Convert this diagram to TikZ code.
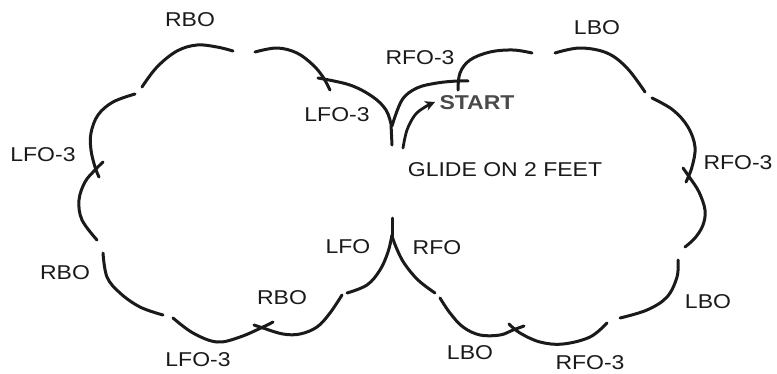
\documentclass[tikz,border=0pt]{standalone}
\usepackage{fontspec}
\setmainfont{Liberation Sans}[FakeStretch=1.15]
\usetikzlibrary{arrows.meta}
\definecolor{ink}{HTML}{1A1A1A}
\definecolor{startgray}{HTML}{4A4A4A}
\tikzset{
  stroke/.style={draw=ink, line width=3pt, line cap=round, line join=round},
  lbl/.style={font=\fontsize{20}{22}\selectfont, text=ink, inner sep=0pt},
  startlbl/.style={font=\fontsize{20}{22}\selectfont\bfseries, text=startgray, inner sep=0pt},
}
\begin{document}
\begin{tikzpicture}[x=1pt,y=-1pt]
\useasboundingbox (0,0) rectangle (777,373);
\fill[white] (0,0) rectangle (777,373);

% ---- left lobe ----
\draw[stroke] plot[smooth,tension=0.6] coordinates {(142,87) (157,67) (177,51) (197,45) (217,47) (233,51)};
\draw[stroke] plot[smooth,tension=0.6] coordinates {(255,52) (277,48) (297,53) (313,65) (323,77) (330,90)};
\draw[stroke] plot[smooth,tension=0.6] coordinates {(318,78) (350,85) (373,97) (386,110) (391,124)} -- (392,145);
\draw[stroke] plot[smooth,tension=0.6] coordinates {(135,94) (113,102) (98,115) (91,133) (91,150) (95,167) (99,177)};
\draw[stroke] plot[smooth,tension=0.6] coordinates {(103,162) (95,170) (85,182) (79,200) (82,220) (97,240)};
\draw[stroke] plot[smooth,tension=0.6] coordinates {(103,253) (107,277) (120,293) (140,307) (163,315)};
\draw[stroke] plot[smooth,tension=0.6] coordinates {(173,318) (193,333) (217,342) (240,337) (263,327) (273,322)};
\draw[stroke] plot[smooth,tension=0.6] coordinates {(254,325) (263,328) (283,334) (300,334) (317,327) (330,313) (342,295)};
\draw[stroke] plot[smooth,tension=0.6] coordinates {(347,293) (367,285) (380,270) (388,252) (392,235)};

% ---- centre cusps ----
\draw[stroke] (392,218) -- (392,236);
\draw[stroke] plot[smooth,tension=0.6] coordinates {(392,236) (396,247) (404,263) (418,280) (435,293)};
\draw[stroke] plot[smooth,tension=0.6] coordinates {(392,126) (402,100) (417,88) (437,83) (457,81) (468,81)};

% ---- right lobe ----
\draw[stroke] plot[smooth,tension=0.6] coordinates {(458,90) (460,73) (470,60) (490,52) (513,50) (532,53)};
\draw[stroke] plot[smooth,tension=0.6] coordinates {(555,53) (580,48) (607,53) (627,68) (645,92)};
\draw[stroke] plot[smooth,tension=0.6] coordinates {(652,98) (673,110) (688,127) (695,147) (692,167) (686,182)};
\draw[stroke] plot[smooth,tension=0.6] coordinates {(683,168) (690,178) (699,192) (705,210) (703,225) (695,238) (685,247)};
\draw[stroke] plot[smooth,tension=0.6] coordinates {(678,260) (677,277) (667,297) (647,310) (620,318)};
\draw[stroke] plot[smooth,tension=0.6] coordinates {(607,323) (590,337) (563,344) (540,342) (520,333) (509,324)};
\draw[stroke] plot[smooth,tension=0.6] coordinates {(440,298) (450,313) (463,327) (480,335) (500,335) (513,330) (524,326)};

% ---- start arrow ----
\draw[stroke, line width=2.8pt, -{Stealth[length=10pt,width=10pt]}] plot[smooth,tension=0.6] coordinates {(403,148) (407,130) (415,115) (425,107) (435,102)};

% ---- labels ----
\node[lbl] (rboTop)   at (190,20)  {RBO};
\node[lbl] (lfoCusp)  at (337,115) {LFO-3};
\node[lbl] (lfoLeft)  at (43,155)  {LFO-3};
\node[lbl] (rboLeft)  at (65,273)  {RBO};
\node[lbl] (lfoBot)   at (198,360) {LFO-3};
\node[lbl] (rboMid)   at (282,298) {RBO};
\node[lbl] (lfo)      at (348,247) {LFO};
\node[lbl] (rfo)      at (437,248) {RFO};
\node[lbl] (lboBot)   at (470,353) {LBO};
\node[lbl] (rfoBot)   at (590,363) {RFO-3};
\node[lbl] (lboRight) at (708,302) {LBO};
\node[lbl] (rfoRight) at (738,163) {RFO-3};
\node[lbl] (lboTop)   at (597,28)  {LBO};
\node[lbl] (rfoTop)   at (420,58)  {RFO-3};
\node[startlbl] (start) at (477,103) {START};
\node[lbl] (glide)    at (505,170) {GLIDE ON 2 FEET};
\end{tikzpicture}
\end{document}
